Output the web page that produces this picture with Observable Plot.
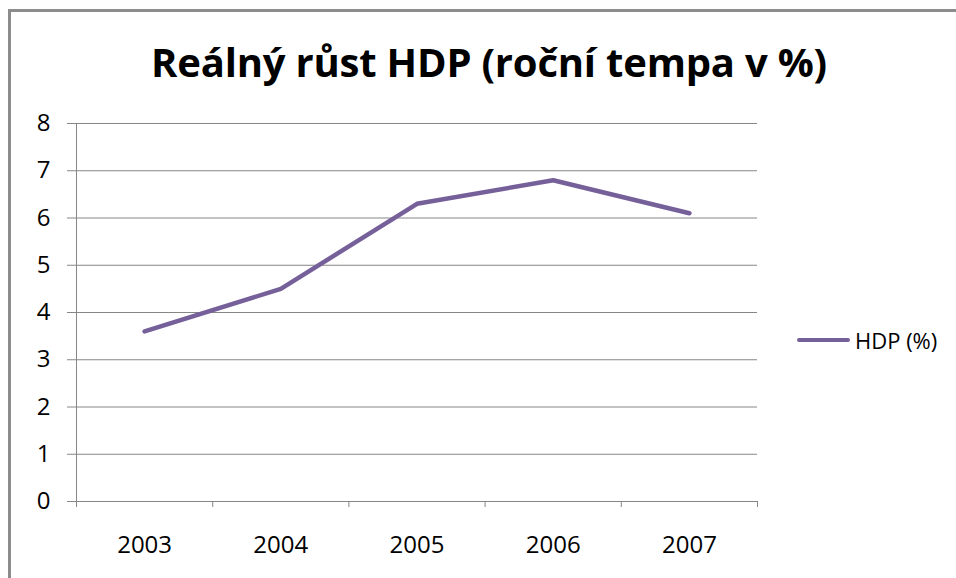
<!DOCTYPE html>
<html>
<head>
<meta charset="utf-8">
<script src="https://cdn.jsdelivr.net/npm/d3@7"></script>
<script src="https://cdn.jsdelivr.net/npm/@observablehq/plot@0.6"></script>
<style>
  html, body { margin: 0; padding: 0; background: #fff; overflow: hidden; }
  #wrap { position: relative; width: 956px; height: 578px; overflow: hidden; }
  #border { position: absolute; left: 8px; top: 9px; width: 1100px; height: 700px;
    border-left: 3px solid #8c8c8c; border-top: 3px solid #8c8c8c; box-sizing: border-box; }
  #title { position: absolute; left: 0; width: 978px; top: 42px; text-align: center;
    font-family: "Open Sans", sans-serif; font-weight: bold; font-size: 40px; line-height: 40px; color: #000; white-space: nowrap; letter-spacing: -0.2px; }
  #chart { position: absolute; left: 0; top: 0; }
  #legend { position: absolute; left: 797px; top: 326px; height: 28px; display: flex; align-items: center;
    font-family: "Open Sans", sans-serif; font-size: 22px; color: #000; }
  #legend .sw { width: 53px; height: 4px; border-radius: 2px; margin-right: 5px; }
</style>
</head>
<body>
<div id="wrap">
  <div id="border"></div>
  <div id="chart"></div>
  <div id="title"></div>
  <div id="legend"></div>
</div>
<script>
const titleText = "Reálný růst HDP (roční tempa v %)";
const seriesName = "HDP (%)";
const years = [2003, 2004, 2005, 2006, 2007];
const hdp = [3.6, 4.5, 6.3, 6.8, 6.1];
const yTicks = [0, 1, 2, 3, 4, 5, 6, 7, 8];
const lineColor = "#76609a";
const gridColor = "#868686";

const data = years.map((y, i) => ({year: y, value: hdp[i]}));
const boundaries = [years[0] - 0.5, ...years.map(y => y + 0.5)];

document.getElementById("title").textContent = titleText;

const plot = Plot.plot({
  width: 956,
  height: 578,
  marginLeft: 76,
  marginRight: 199,
  marginTop: 123,
  marginBottom: 77,
  style: {fontFamily: "'Open Sans', sans-serif", fontSize: "24px", color: "#000", background: "transparent", overflow: "visible"},
  x: {domain: [years[0] - 0.5, years[years.length - 1] + 0.5], label: null},
  y: {domain: [0, 8], label: null},
  marks: [
    Plot.gridY({ticks: yTicks, stroke: gridColor, strokeOpacity: 1, strokeWidth: 1}),
    Plot.ruleX([years[0] - 0.5], {stroke: gridColor, strokeWidth: 1}),
    Plot.axisY({ticks: yTicks, tickSize: 9, tickPadding: 17, stroke: gridColor, strokeOpacity: 1, fill: "#000", tickFormat: d => String(d)}),
    Plot.axisX({ticks: boundaries, tickSize: 6, tickFormat: () => "", stroke: gridColor, strokeOpacity: 1}),
    Plot.ruleY([0], {stroke: gridColor, strokeWidth: 1}),
    Plot.axisX({ticks: years, tickSize: 0, tickPadding: 34, fill: "#000", tickFormat: d => String(d)}),
    Plot.line(data, {x: "year", y: "value", stroke: lineColor, strokeWidth: 4.5, strokeLinecap: "round", strokeLinejoin: "round"})
  ]
});
document.getElementById("chart").appendChild(plot);

const legend = document.getElementById("legend");
const sw = document.createElement("span");
sw.className = "sw";
sw.style.background = lineColor;
const lt = document.createElement("span");
lt.textContent = seriesName;
legend.appendChild(sw);
legend.appendChild(lt);
</script>
</body>
</html>
